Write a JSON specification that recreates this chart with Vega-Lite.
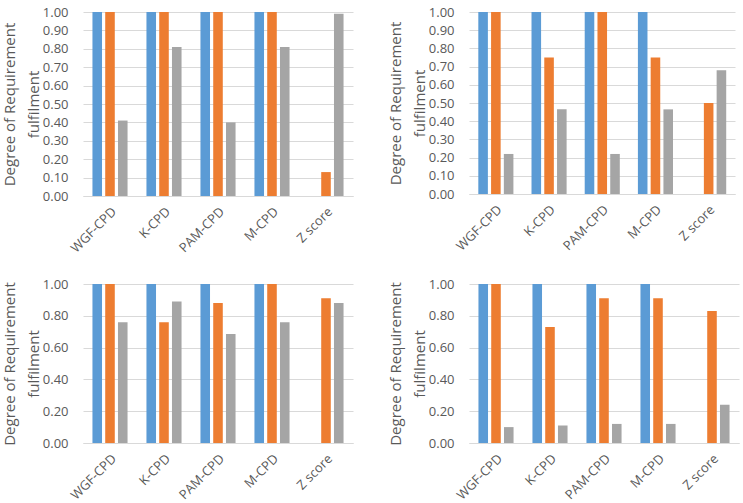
{
  "$schema": "https://vega.github.io/schema/vega-lite/v6.json",
  "background": "white",
  "padding": {"left": 2, "top": 6, "right": 2, "bottom": 0},
  "config": {
    "font": "Open Sans",
    "view": {"stroke": null},
    "axis": {"labelColor": "#595959", "titleColor": "#595959", "labelFont": "Open Sans", "titleFont": "Open Sans"},
    "axisX": {"labelAngle": -45, "labelFontSize": 13, "ticks": false, "domainColor": "#d9d9d9", "labelPadding": 9},
    "axisY": {"format": ".2f", "labelFontSize": 13, "titleFontSize": 15, "titleFontWeight": "normal", "titleLineHeight": 24, "domain": false, "ticks": false, "gridColor": "#d9d9d9", "labelPadding": 15, "titlePadding": 1}
  },
  "datasets": {
    "d": [
      {"panel": 1, "method": "WGF-CPD", "series": "A", "value": 1.0},
      {"panel": 1, "method": "WGF-CPD", "series": "B", "value": 1.0},
      {"panel": 1, "method": "WGF-CPD", "series": "C", "value": 0.41},
      {"panel": 1, "method": "K-CPD", "series": "A", "value": 1.0},
      {"panel": 1, "method": "K-CPD", "series": "B", "value": 1.0},
      {"panel": 1, "method": "K-CPD", "series": "C", "value": 0.81},
      {"panel": 1, "method": "PAM-CPD", "series": "A", "value": 1.0},
      {"panel": 1, "method": "PAM-CPD", "series": "B", "value": 1.0},
      {"panel": 1, "method": "PAM-CPD", "series": "C", "value": 0.40},
      {"panel": 1, "method": "M-CPD", "series": "A", "value": 1.0},
      {"panel": 1, "method": "M-CPD", "series": "B", "value": 1.0},
      {"panel": 1, "method": "M-CPD", "series": "C", "value": 0.81},
      {"panel": 1, "method": "Z score", "series": "B", "value": 0.13},
      {"panel": 1, "method": "Z score", "series": "C", "value": 0.99},

      {"panel": 2, "method": "WGF-CPD", "series": "A", "value": 1.0},
      {"panel": 2, "method": "WGF-CPD", "series": "B", "value": 1.0},
      {"panel": 2, "method": "WGF-CPD", "series": "C", "value": 0.22},
      {"panel": 2, "method": "K-CPD", "series": "A", "value": 1.0},
      {"panel": 2, "method": "K-CPD", "series": "B", "value": 0.75},
      {"panel": 2, "method": "K-CPD", "series": "C", "value": 0.465},
      {"panel": 2, "method": "PAM-CPD", "series": "A", "value": 1.0},
      {"panel": 2, "method": "PAM-CPD", "series": "B", "value": 1.0},
      {"panel": 2, "method": "PAM-CPD", "series": "C", "value": 0.22},
      {"panel": 2, "method": "M-CPD", "series": "A", "value": 1.0},
      {"panel": 2, "method": "M-CPD", "series": "B", "value": 0.75},
      {"panel": 2, "method": "M-CPD", "series": "C", "value": 0.465},
      {"panel": 2, "method": "Z score", "series": "B", "value": 0.50},
      {"panel": 2, "method": "Z score", "series": "C", "value": 0.68},

      {"panel": 3, "method": "WGF-CPD", "series": "A", "value": 1.0},
      {"panel": 3, "method": "WGF-CPD", "series": "B", "value": 1.0},
      {"panel": 3, "method": "WGF-CPD", "series": "C", "value": 0.76},
      {"panel": 3, "method": "K-CPD", "series": "A", "value": 1.0},
      {"panel": 3, "method": "K-CPD", "series": "B", "value": 0.76},
      {"panel": 3, "method": "K-CPD", "series": "C", "value": 0.89},
      {"panel": 3, "method": "PAM-CPD", "series": "A", "value": 1.0},
      {"panel": 3, "method": "PAM-CPD", "series": "B", "value": 0.88},
      {"panel": 3, "method": "PAM-CPD", "series": "C", "value": 0.685},
      {"panel": 3, "method": "M-CPD", "series": "A", "value": 1.0},
      {"panel": 3, "method": "M-CPD", "series": "B", "value": 1.0},
      {"panel": 3, "method": "M-CPD", "series": "C", "value": 0.76},
      {"panel": 3, "method": "Z score", "series": "B", "value": 0.91},
      {"panel": 3, "method": "Z score", "series": "C", "value": 0.88},

      {"panel": 4, "method": "WGF-CPD", "series": "A", "value": 1.0},
      {"panel": 4, "method": "WGF-CPD", "series": "B", "value": 1.0},
      {"panel": 4, "method": "WGF-CPD", "series": "C", "value": 0.10},
      {"panel": 4, "method": "K-CPD", "series": "A", "value": 1.0},
      {"panel": 4, "method": "K-CPD", "series": "B", "value": 0.73},
      {"panel": 4, "method": "K-CPD", "series": "C", "value": 0.11},
      {"panel": 4, "method": "PAM-CPD", "series": "A", "value": 1.0},
      {"panel": 4, "method": "PAM-CPD", "series": "B", "value": 0.91},
      {"panel": 4, "method": "PAM-CPD", "series": "C", "value": 0.12},
      {"panel": 4, "method": "M-CPD", "series": "A", "value": 1.0},
      {"panel": 4, "method": "M-CPD", "series": "B", "value": 0.91},
      {"panel": 4, "method": "M-CPD", "series": "C", "value": 0.12},
      {"panel": 4, "method": "Z score", "series": "B", "value": 0.83},
      {"panel": 4, "method": "Z score", "series": "C", "value": 0.24}
    ]
  },
  "data": {"name": "d"},
  "columns": 2,
  "spacing": {"column": 35, "row": 22},
  "concat": [
    {
      "width": 270, "height": 184,
      "transform": [{"filter": "datum.panel == 1"}],
      "mark": {"type": "bar"},
      "encoding": {
        "x": {"field": "method", "type": "nominal", "sort": ["WGF-CPD", "K-CPD", "PAM-CPD", "M-CPD", "Z score"], "title": null,
              "scale": {"paddingInner": 0.35, "paddingOuter": 0.175}},
        "xOffset": {"field": "series", "type": "nominal", "scale": {"domain": ["A", "B", "C"], "paddingInner": 0.25}},
        "y": {"field": "value", "type": "quantitative", "title": ["Degree of Requirement", "fulfilment"],
              "scale": {"domain": [0, 1]},
              "axis": {"values": [0, 0.1, 0.2, 0.3, 0.4, 0.5, 0.6, 0.7, 0.8, 0.9, 1.0]}},
        "color": {"field": "series", "type": "nominal", "scale": {"domain": ["A", "B", "C"], "range": ["#5B9BD5", "#ED7D31", "#A5A5A5"]}, "legend": null}
      }
    },
    {
      "width": 266, "height": 182,
      "transform": [{"filter": "datum.panel == 2"}],
      "mark": {"type": "bar"},
      "encoding": {
        "x": {"field": "method", "type": "nominal", "sort": ["WGF-CPD", "K-CPD", "PAM-CPD", "M-CPD", "Z score"], "title": null,
              "scale": {"paddingInner": 0.35, "paddingOuter": 0.175}},
        "xOffset": {"field": "series", "type": "nominal", "scale": {"domain": ["A", "B", "C"], "paddingInner": 0.25}},
        "y": {"field": "value", "type": "quantitative", "title": ["Degree of Requirement", "fulfilment"],
              "scale": {"domain": [0, 1]},
              "axis": {"values": [0, 0.1, 0.2, 0.3, 0.4, 0.5, 0.6, 0.7, 0.8, 0.9, 1.0]}},
        "color": {"field": "series", "type": "nominal", "scale": {"domain": ["A", "B", "C"], "range": ["#5B9BD5", "#ED7D31", "#A5A5A5"]}, "legend": null}
      }
    },
    {
      "width": 270, "height": 159,
      "transform": [{"filter": "datum.panel == 3"}],
      "mark": {"type": "bar"},
      "encoding": {
        "x": {"field": "method", "type": "nominal", "sort": ["WGF-CPD", "K-CPD", "PAM-CPD", "M-CPD", "Z score"], "title": null,
              "scale": {"paddingInner": 0.35, "paddingOuter": 0.175}},
        "xOffset": {"field": "series", "type": "nominal", "scale": {"domain": ["A", "B", "C"], "paddingInner": 0.25}},
        "y": {"field": "value", "type": "quantitative", "title": ["Degree of Requirement", "fulfilment"],
              "scale": {"domain": [0, 1]},
              "axis": {"values": [0, 0.2, 0.4, 0.6, 0.8, 1.0]}},
        "color": {"field": "series", "type": "nominal", "scale": {"domain": ["A", "B", "C"], "range": ["#5B9BD5", "#ED7D31", "#A5A5A5"]}, "legend": null}
      }
    },
    {
      "width": 270, "height": 159,
      "transform": [{"filter": "datum.panel == 4"}],
      "mark": {"type": "bar"},
      "encoding": {
        "x": {"field": "method", "type": "nominal", "sort": ["WGF-CPD", "K-CPD", "PAM-CPD", "M-CPD", "Z score"], "title": null,
              "scale": {"paddingInner": 0.35, "paddingOuter": 0.175}},
        "xOffset": {"field": "series", "type": "nominal", "scale": {"domain": ["A", "B", "C"], "paddingInner": 0.25}},
        "y": {"field": "value", "type": "quantitative", "title": ["Degree of Requirement", "fulfilment"],
              "scale": {"domain": [0, 1]},
              "axis": {"values": [0, 0.2, 0.4, 0.6, 0.8, 1.0]}},
        "color": {"field": "series", "type": "nominal", "scale": {"domain": ["A", "B", "C"], "range": ["#5B9BD5", "#ED7D31", "#A5A5A5"]}, "legend": null}
      }
    }
  ]
}
